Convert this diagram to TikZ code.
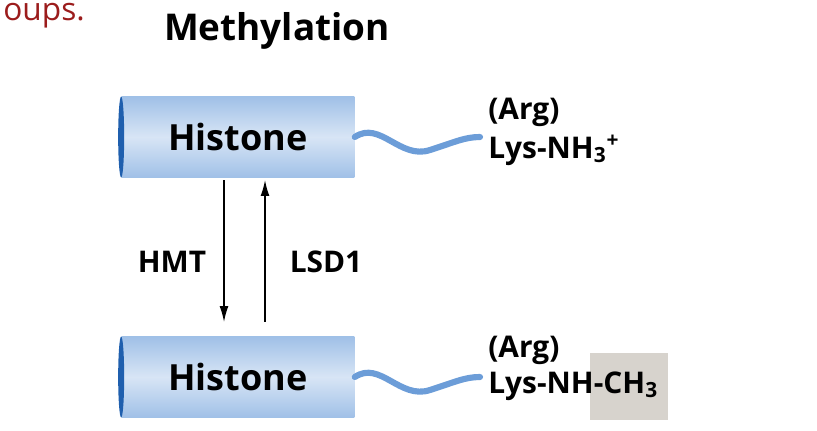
\documentclass[tikz,border=0pt]{standalone}
\usepackage{fontspec}
\setmainfont{Open Sans}
\usetikzlibrary{positioning,arrows.meta}
\definecolor{tailblue}{HTML}{6C9DD8}
\definecolor{bodyblue}{HTML}{8FB5E3}
\definecolor{edgeblue}{HTML}{1F5FAE}
\definecolor{boxgrey}{HTML}{D7D3CD}
\definecolor{titlered}{HTML}{9B1C1C}

\begin{document}
\begin{tikzpicture}[x=0.02cm, y=-0.02cm, >=latex,
histone/.style ={rectangle, minimum width=4.66cm, minimum height=1.62cm,
  top color=bodyblue!85, bottom color=bodyblue!85, middle color=bodyblue!35,
  font=\fontsize{20.5}{24}\selectfont\bfseries},
tail/.style ={tailblue, line width=3.5pt, line cap=round},
label/.style ={font=\fontsize{17}{20}\selectfont\bfseries, anchor=west, inner sep=0pt},
enzyme/.style ={font=\fontsize{17}{20}\selectfont\bfseries}]
\useasboundingbox (0,0) rectangle (817,430);

\node[text=titlered, font=\fontsize{18}{21}\selectfont, anchor=north west, inner sep=0pt] (cut) at (3,3) {oups.};
\node[font=\fontsize{21}{24}\selectfont\bfseries] (title) at (277,31) {Methylation};

% top histone
\node[histone] (H1) at (238,137) {Histone};
\fill[edgeblue] (H1.west) ellipse (3 and 40.5);
\coordinate (T1) at (480,137);
\draw[tail] (H1.east) .. controls (380,120) and (400,160) .. (430,150) .. controls (455,142) and (465,137) .. (T1);
\node[label] (arg1) at (488,112) {(Arg)};
\node[label] (lys1) at (488,150) {Lys-NH$_\mathbf{3}$\textsuperscript{+}};

% bottom histone
\node[histone] (H2) at (238,377) {Histone};
\fill[edgeblue] (H2.west) ellipse (3 and 40.5);
\coordinate (T2) at (480,377);
\draw[tail] (H2.east) .. controls (380,360) and (400,400) .. (430,390) .. controls (455,382) and (465,377) .. (T2);
\node[label] (arg2) at (488,350) {(Arg)};
\node[fill=boxgrey, minimum width=1.56cm, minimum height=1.34cm, anchor=north west] (box) at (590,353) {};
\node[label] (lys2) at (488,386) {Lys-NH-CH$_\mathbf{3}$};

% arrows
\draw[-{Latex[length=9pt,width=5pt]}, thick] (224,180) -- (224,322);
\draw[{Latex[length=9pt,width=5pt]}-, thick] (265,180) -- (265,322);
\node[enzyme] (hmt) at (172,262) {HMT};
\node[enzyme] (lsd) at (326,262) {LSD1};

\end{tikzpicture}
\end{document}
